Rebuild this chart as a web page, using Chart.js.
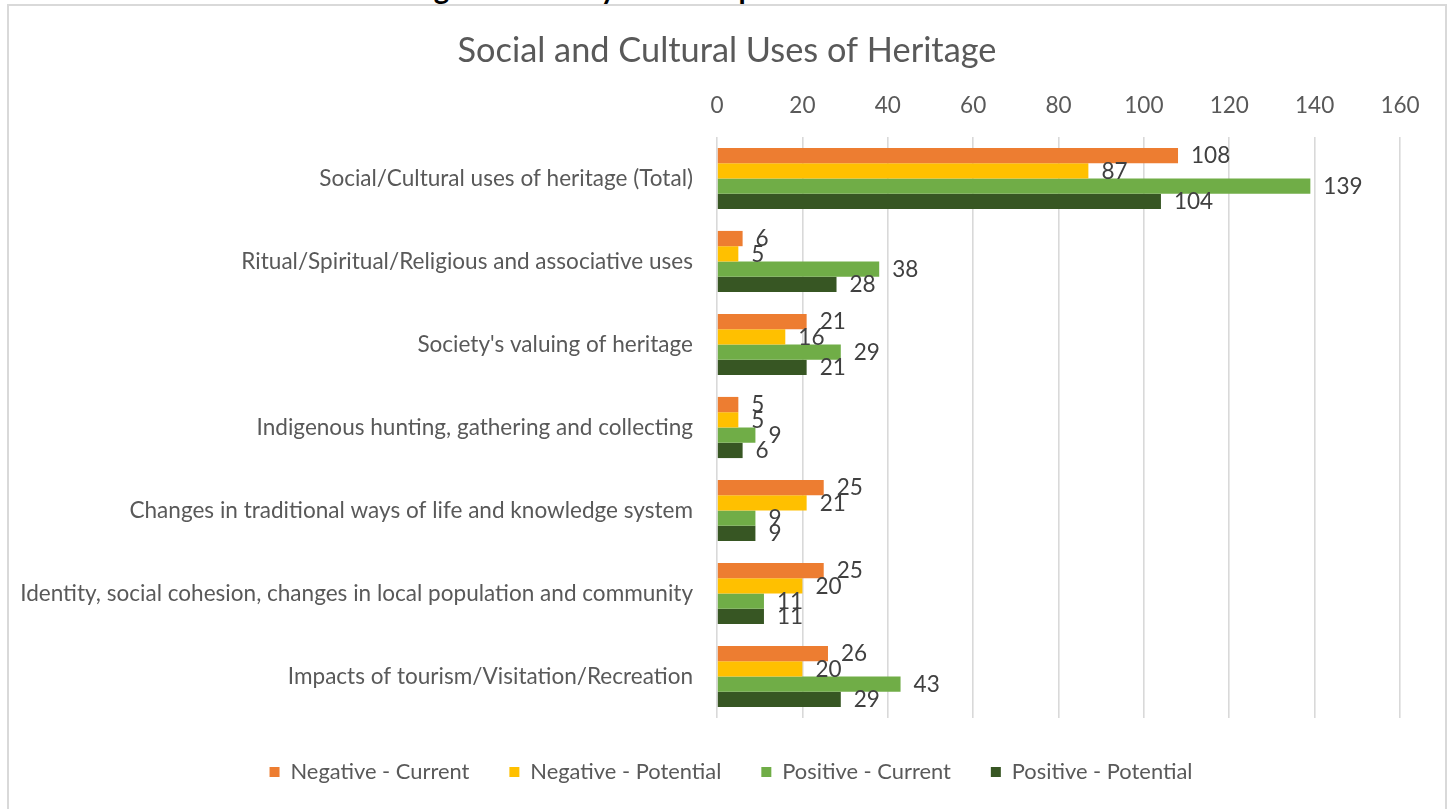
<!DOCTYPE html>
<html>
<head>
<meta charset="utf-8">
<script src="https://cdn.jsdelivr.net/npm/chart.js@4.4.1/dist/chart.umd.min.js"></script>
<style>
  html, body { margin: 0; padding: 0; background: #ffffff; overflow: hidden; }
  #page { position: relative; width: 1450px; height: 809px; overflow: hidden; background: #fff; }
  #frame { position: absolute; left: 7px; top: 4px; width: 1436px; height: 900px; border: 2px solid #d9d9d9; box-sizing: content-box; }
  #hdr { position: absolute; left: 0; top: -32.5px; margin: 0; font-family: Lato, "Liberation Sans", sans-serif; font-weight: bold; font-size: 31px; line-height: normal; color: #000; white-space: nowrap; transform-origin: 0 0; }
  #wrap { position: absolute; left: 0; top: 0; width: 1450px; height: 809px; }
</style>
</head>
<body>
<div id="page">
  <div id="hdr">Social and Cultural Uses of Heritage: Secondary factor impact</div>
  <div id="frame"></div>
  <div id="wrap"><canvas id="c" width="1450" height="809"></canvas></div>
</div>
<script>
// ---- data ----
const titleText = 'Social and Cultural Uses of Heritage';
const categories = [
  'Social/Cultural uses of heritage (Total)',
  'Ritual/Spiritual/Religious and associative uses',
  "Society's valuing of heritage",
  'Indigenous hunting, gathering and collecting',
  'Changes in traditional ways of life and knowledge system',
  'Identity, social cohesion, changes in local population and community',
  'Impacts of tourism/Visitation/Recreation'
];
const seriesNames = ['Negative - Current', 'Negative - Potential', 'Positive - Current', 'Positive - Potential'];
const negativeCurrent   = [108, 6, 21, 5, 25, 25, 26];
const negativePotential = [87, 5, 16, 5, 21, 20, 20];
const positiveCurrent   = [139, 38, 29, 9, 9, 11, 43];
const positivePotential = [104, 28, 21, 6, 9, 11, 29];
const xMin = 0, xMax = 160, xStep = 20;

// ---- styling ----
const FAMILY = 'Lato, "Open Sans", sans-serif';
const colors = ['#ED7D31', '#FFC000', '#70AD47', '#375623'];
const measureCtx = document.createElement('canvas').getContext('2d');
function fitSize(text, target, weight) {
  measureCtx.font = (weight || 'normal') + ' 100px ' + FAMILY;
  return 100 * target / measureCtx.measureText(text).width;
}
const T = fitSize(titleText, 539);
const F = fitSize(categories[5], 673);
const FL = fitSize(seriesNames[0], 179);

// header stretch
(function () {
  const h = document.getElementById('hdr');
  const w = h.getBoundingClientRect().width;
  h.style.transform = 'scaleX(' + (795 / w) + ')';
})();

const titleMid = 51;
const titlePadTop = titleMid - 0.6 * T;
const titleBottom = titleMid + 0.6 * T;
const areaTop = 137, areaLeft = 717, areaRight = 1400, areaBottom = 718;
const tickMid = 114 - 0.387 * F;
const tickPad = areaTop - tickMid - 0.6 * F;
const legendMid = 772;
const legendPad = 40;
const legendHeight = FL + legendPad + 10;
const padBottom = 809 - areaBottom - legendHeight;
const titleCenter = 727, legendCenter = 731;

const dataLabels = {
  id: 'dataLabels',
  afterDatasetsDraw(chart) {
    const ctx = chart.ctx;
    ctx.save();
    ctx.font = 'normal ' + F + 'px ' + FAMILY;
    ctx.fillStyle = '#404040';
    ctx.textAlign = 'left';
    ctx.textBaseline = 'middle';
    chart.data.datasets.forEach((ds, di) => {
      const meta = chart.getDatasetMeta(di);
      meta.data.forEach((bar, i) => {
        ctx.fillText(String(ds.data[i]), bar.x + 13, bar.y + 0.5);
      });
    });
    ctx.restore();
  }
};

// re-centre title and legend as in the reference
const boxShift = {
  id: 'boxShift',
  afterLayout(chart) {
    const t = chart.titleBlock;
    if (t) {
      const dx = titleCenter - (t.left + t.right) / 2;
      t.left += dx; t.right += dx;
    }
    const l = chart.legend;
    if (l) {
      const dx = legendCenter - (l.left + l.right) / 2;
      l.left += dx; l.right += dx;
      const dy = legendMid - (l.top + legendPad + FL / 2);
      l.top += dy; l.bottom += dy;
    }
  }
};

const seriesData = [negativeCurrent, negativePotential, positiveCurrent, positivePotential];

new Chart(document.getElementById('c'), {
  type: 'bar',
  data: {
    labels: categories,
    datasets: seriesNames.map((name, k) => ({
      label: name,
      data: seriesData[k],
      backgroundColor: colors[k],
      borderWidth: 0,
      categoryPercentage: 0.737,
      barPercentage: 1.0
    }))
  },
  options: {
    indexAxis: 'y',
    responsive: false,
    animation: false,
    devicePixelRatio: 1,
    layout: { padding: { top: 0, left: 0, right: 1450 - areaRight, bottom: padBottom } },
    plugins: {
      title: {
        display: true,
        text: titleText,
        color: '#595959',
        font: { family: FAMILY, size: T, weight: 'normal' },
        padding: { top: titlePadTop, bottom: 0 }
      },
      legend: {
        position: 'bottom',
        labels: {
          color: '#595959',
          font: { family: FAMILY, size: FL },
          boxWidth: 10,
          boxHeight: 10,
          padding: legendPad
        }
      },
      tooltip: { enabled: false }
    },
    scales: {
      x: {
        position: 'top',
        min: xMin,
        max: xMax,
        ticks: { stepSize: xStep, color: '#595959', font: { family: FAMILY, size: F }, padding: tickPad },
        grid: { color: '#d9d9d9', lineWidth: 1.6, drawTicks: false },
        border: { display: false },
        afterFit(scale) { scale.height = areaTop - titleBottom; }
      },
      y: {
        ticks: { color: '#595959', font: { family: FAMILY, size: F }, padding: 24, autoSkip: false },
        grid: { display: false, drawTicks: false },
        border: { display: false },
        afterFit(scale) { scale.width = areaLeft; }
      }
    }
  },
  plugins: [dataLabels, boxShift]
});
</script>
</body>
</html>
